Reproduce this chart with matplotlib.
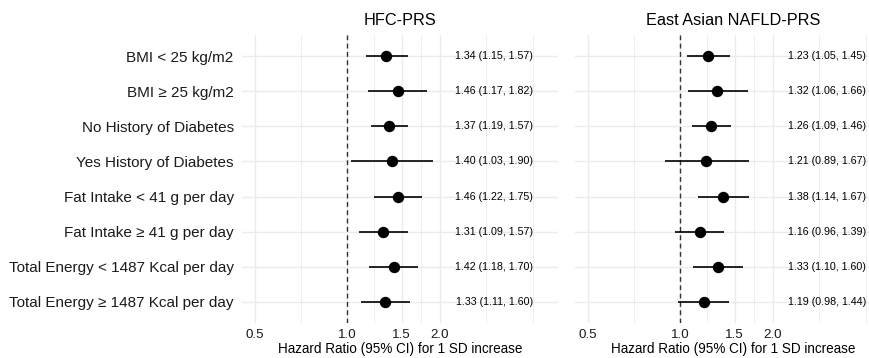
import numpy as np
import matplotlib
matplotlib.use("Agg")
import matplotlib.pyplot as plt

plt.rcParams['font.family'] = ['Liberation Sans', 'DejaVu Sans']

subgroups = ["BMI < 25 kg/m2", "BMI ≥ 25 kg/m2", "No History of Diabetes",
             "Yes History of Diabetes", "Fat Intake < 41 g per day",
             "Fat Intake ≥ 41 g per day", "Total Energy < 1487 Kcal per day",
             "Total Energy ≥ 1487 Kcal per day"]

hfc_hr = [1.34, 1.46, 1.37, 1.40, 1.46, 1.31, 1.42, 1.33]
hfc_lo = [1.15, 1.17, 1.19, 1.03, 1.22, 1.09, 1.18, 1.11]
hfc_hi = [1.57, 1.82, 1.57, 1.90, 1.75, 1.57, 1.70, 1.60]

ea_hr = [1.23, 1.32, 1.26, 1.21, 1.38, 1.16, 1.33, 1.19]
ea_lo = [1.05, 1.06, 1.09, 0.89, 1.14, 0.96, 1.10, 0.98]
ea_hi = [1.45, 1.66, 1.46, 1.67, 1.67, 1.39, 1.60, 1.44]

titles = ["HFC-PRS", "East Asian NAFLD-PRS"]
major_breaks = [0.5, 1.0, 1.5, 2.0]
minor_breaks = [0.707, 1.225, 1.732, 2.83, 4.0]
text_x = 3.0

W, H = 869, 358
fig = plt.figure(figsize=(W / 100, H / 100), dpi=100)

panels = [(242, hfc_hr, hfc_lo, hfc_hi), (575, ea_hr, ea_lo, ea_hi)]
n = len(subgroups)
ypos = np.arange(n)[::-1] + 1  # first row on top

for i, (x0, hr, lo, hi) in enumerate(panels):
    ax = fig.add_axes([x0 / W, (H - 323) / H, 316 / W, 288 / H])
    ax.set_xscale('log')
    ax.set_xlim(0.455, 4.83)
    ax.set_ylim(0.4, n + 0.6)

    for b in minor_breaks:
        ax.axvline(b, color='#EBEBEB', lw=0.6, zorder=0)
    for b in major_breaks:
        ax.axvline(b, color='#EBEBEB', lw=1.0, zorder=0)
    for y in ypos:
        ax.axhline(y, color='#EBEBEB', lw=1.0, zorder=0)

    ax.axvline(1.0, color='#333333', lw=1.0, linestyle=(0, (3.5, 2.5)), zorder=1)

    ax.hlines(ypos, lo, hi, color='black', lw=1.2, zorder=2)
    ax.plot(hr, ypos, 'o', color='black', markersize=7.2, zorder=3)

    for y, h, l, u in zip(ypos, hr, lo, hi):
        ax.text(text_x, y, f"{h:.2f} ({l:.2f}, {u:.2f})", ha='center', va='center',
                fontsize=7.7, color='black')

    ax.set_xticks(major_breaks)
    ax.set_xticklabels(["0.5", "1.0", "1.5", "2.0"])
    ax.xaxis.set_minor_locator(matplotlib.ticker.NullLocator())
    ax.tick_params(axis='x', length=0, labelsize=9.6, labelcolor='#1a1a1a', pad=4)
    ax.set_yticks(ypos)
    if i == 0:
        ax.set_yticklabels(subgroups)
        ax.tick_params(axis='y', length=0, labelsize=11, labelcolor='#1a1a1a', pad=6)
    else:
        ax.set_yticklabels([])
        ax.tick_params(axis='y', length=0)
    for s in ax.spines.values():
        s.set_visible(False)

    ax.set_title(titles[i], fontsize=11.7, pad=7)
    ax.set_xlabel("Hazard Ratio (95% CI) for 1 SD increase", fontsize=9.75, labelpad=1)

fig.savefig("out.png", dpi=100)
